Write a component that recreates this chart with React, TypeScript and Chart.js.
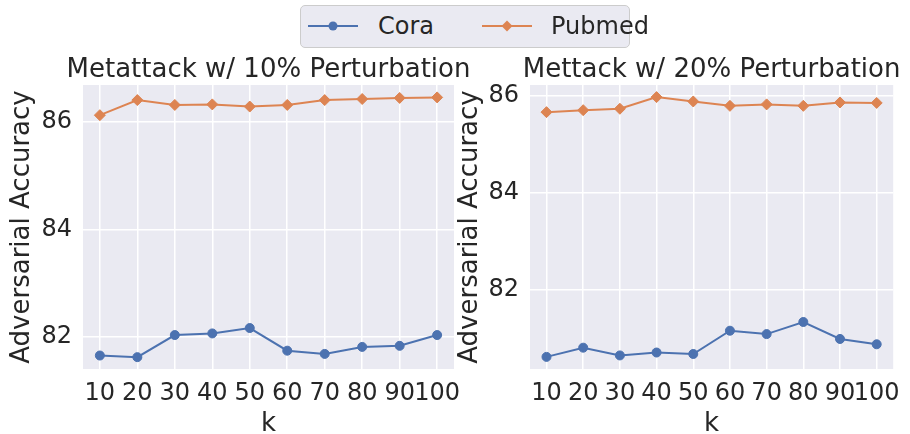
import React, { useEffect, useRef } from "react";
import { Chart, registerables } from "chart.js";

Chart.register(...registerables);

const K_VALUES = [10, 20, 30, 40, 50, 60, 70, 80, 90, 100];
const CORA_10 = [81.66, 81.63, 82.04, 82.07, 82.17, 81.75, 81.69, 81.82, 81.84, 82.04];
const PUBMED_10 = [86.12, 86.4, 86.31, 86.32, 86.28, 86.31, 86.4, 86.42, 86.44, 86.45];
const CORA_20 = [80.61, 80.8, 80.64, 80.7, 80.67, 81.15, 81.08, 81.33, 80.98, 80.87];
const PUBMED_20 = [85.66, 85.7, 85.73, 85.97, 85.88, 85.79, 85.82, 85.79, 85.86, 85.85];
const Y_TICKS = [82, 84, 86];
const SERIES_NAMES = ["Cora", "Pubmed"];
const TITLES = ["Metattack w/ 10% Perturbation", "Mettack w/ 20% Perturbation"];

const BLUE = "#4C72B0";
const ORANGE = "#DD8452";
const BG = "#EAEAF2";
const TEXT = "#262626";
const FONT = "'DejaVu Sans', sans-serif";

const bgPlugin = {
  id: "plotBg",
  beforeDraw(chart: any) {
    const { ctx, chartArea } = chart;
    ctx.save();
    ctx.fillStyle = BG;
    ctx.fillRect(chartArea.left, chartArea.top, chartArea.right - chartArea.left, chartArea.bottom - chartArea.top);
    ctx.restore();
  },
};

const axesTitlePlugin = {
  id: "axesTitle",
  afterDraw(chart: any, _args: any, opts: any) {
    const { ctx, chartArea } = chart;
    ctx.save();
    ctx.fillStyle = TEXT;
    ctx.font = `26px ${FONT}`;
    ctx.textAlign = "center";
    ctx.textBaseline = "alphabetic";
    ctx.fillText(opts.text, (chartArea.left + chartArea.right) / 2, chartArea.top - 8.5);
    ctx.restore();
  },
};

function makeConfig(title: string, cora: number[], pubmed: number[], yMin: number, yMax: number, padRight: number, yWidth: number): any {
  return {
    type: "line",
    data: {
      datasets: [
        {
          label: SERIES_NAMES[0],
          data: K_VALUES.map((k, i) => ({ x: k, y: cora[i] })),
          borderColor: BLUE,
          backgroundColor: BLUE,
          borderWidth: 2,
          pointStyle: "circle",
          pointRadius: 4.5,
          pointBorderWidth: 1,
          pointBorderColor: BLUE,
          pointBackgroundColor: BLUE,
        },
        {
          label: SERIES_NAMES[1],
          data: K_VALUES.map((k, i) => ({ x: k, y: pubmed[i] })),
          borderColor: ORANGE,
          backgroundColor: ORANGE,
          borderWidth: 2,
          pointStyle: "rectRot",
          pointRadius: 5.5,
          pointBorderWidth: 1,
          pointBorderColor: ORANGE,
          pointBackgroundColor: ORANGE,
        },
      ],
    },
    options: {
      animation: false,
      responsive: false,
      maintainAspectRatio: false,
      layout: { padding: { top: 85, right: padRight, bottom: 0, left: 0 } },
      plugins: {
        legend: { display: false },
        tooltip: { enabled: false },
        title: { display: false },
        axesTitle: { text: title },
      },
      scales: {
        x: {
          type: "linear",
          min: 5.5,
          max: 104.5,
          afterBuildTicks(scale: any) {
            scale.ticks = K_VALUES.map((v) => ({ value: v }));
          },
          afterFit(scale: any) {
            scale.height = 65;
          },
          grid: { color: "#ffffff", lineWidth: 1.5, drawTicks: false },
          border: { display: false },
          ticks: {
            autoSkip: false,
            maxRotation: 0,
            minRotation: 0,
            padding: 10,
            color: TEXT,
            font: { family: FONT, size: 24 },
            callback: (v: any) => String(v),
          },
          title: {
            display: true,
            text: "k",
            color: TEXT,
            font: { family: FONT, size: 26 },
            padding: { top: 0, bottom: -6 },
          },
        },
        y: {
          type: "linear",
          min: yMin,
          max: yMax,
          afterBuildTicks(scale: any) {
            scale.ticks = Y_TICKS.map((v) => ({ value: v }));
          },
          afterFit(scale: any) {
            scale.width = yWidth;
          },
          grid: { color: "#ffffff", lineWidth: 1.5, drawTicks: false },
          border: { display: false },
          ticks: {
            padding: 11,
            color: TEXT,
            font: { family: FONT, size: 24 },
            callback: (v: any) => String(v),
          },
          title: {
            display: true,
            text: "Adversarial Accuracy",
            color: TEXT,
            font: { family: FONT, size: 26 },
            padding: { top: 6.4, bottom: 0 },
          },
        },
      },
    },
    plugins: [bgPlugin, axesTitlePlugin],
  };
}

function LegendItem({ color, marker, label, lineLeft, textLeft }: any) {
  return (
    <>
      <svg style={{ position: "absolute", left: lineLeft, top: 10, overflow: "visible" }} width={50} height={20}>
        <line x1={0} y1={10} x2={50} y2={10} stroke={color} strokeWidth={2} />
        {marker === "circle" ? (
          <circle cx={25} cy={10} r={4.5} fill={color} />
        ) : (
          <polygon points="25,4.5 30.5,10 25,15.5 19.5,10" fill={color} />
        )}
      </svg>
      <span
        style={{
          position: "absolute",
          left: textLeft,
          top: 4,
          fontFamily: FONT,
          fontSize: 24,
          lineHeight: "32px",
          color: TEXT,
          whiteSpace: "nowrap",
        }}
      >
        {label}
      </span>
    </>
  );
}

export default function App() {
  const ref1 = useRef<HTMLCanvasElement>(null);
  const ref2 = useRef<HTMLCanvasElement>(null);

  useEffect(() => {
    const c1 = new Chart(ref1.current as HTMLCanvasElement, makeConfig(TITLES[0], CORA_10, PUBMED_10, 81.41, 86.68, 36, 83));
    const c2 = new Chart(ref2.current as HTMLCanvasElement, makeConfig(TITLES[1], CORA_20, PUBMED_20, 80.36, 86.22, 9, 82));
    return () => {
      c1.destroy();
      c2.destroy();
    };
  }, []);

  return (
    <div style={{ position: "absolute", left: 0, top: 0, width: 910, height: 434, overflow: "hidden", background: "#fff" }}>
      <canvas ref={ref1} width={490} height={434} style={{ position: "absolute", left: 0, top: 0 }} />
      <canvas ref={ref2} width={462} height={434} style={{ position: "absolute", left: 448, top: 0 }} />
      <div
        style={{
          position: "absolute",
          left: 300,
          top: 5,
          width: 330,
          height: 43,
          boxSizing: "border-box",
          border: "1px solid #cccccc",
          borderRadius: 5,
          background: BG,
        }}
      >
        <LegendItem color={BLUE} marker="circle" label={SERIES_NAMES[0]} lineLeft={7} textLeft={77} />
        <LegendItem color={ORANGE} marker="diamond" label={SERIES_NAMES[1]} lineLeft={181} textLeft={250} />
      </div>
    </div>
  );
}
